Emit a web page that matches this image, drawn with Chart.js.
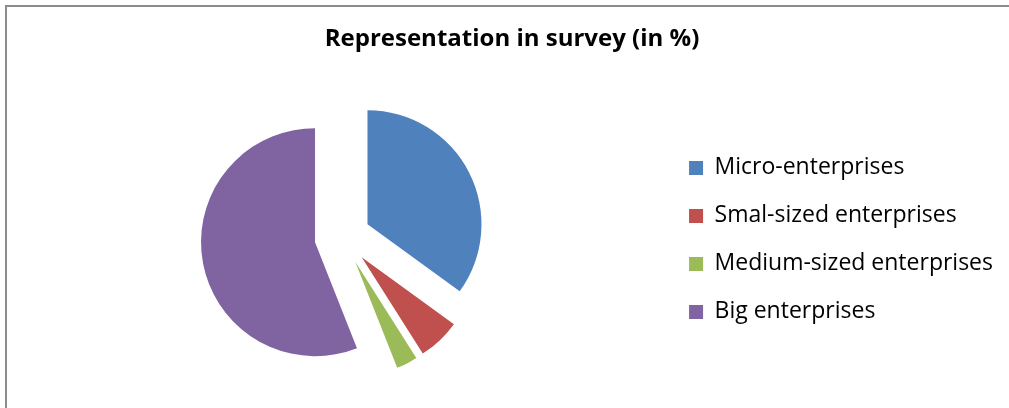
<!DOCTYPE html>
<html><head><meta charset="utf-8">
<script src="https://cdn.jsdelivr.net/npm/chart.js@4.4.1/dist/chart.umd.min.js"></script>
<style>
html,body{margin:0;padding:0;background:#fff;}
#wrap{position:relative;width:1009px;height:408px;overflow:hidden;}
#frame{position:absolute;left:5px;top:5px;width:1100px;height:500px;border-top:2px solid #8c8c8c;border-left:2px solid #8c8c8c;pointer-events:none;}
canvas{position:absolute;left:0;top:0;}
</style>
</head>
<body>
<div id="wrap"><canvas id="c" width="1009" height="408"></canvas><div id="frame"></div></div>
<script>
const titleText = 'Representation in survey (in %)';
const categories = ['Micro-enterprises', 'Smal-sized enterprises', 'Medium-sized enterprises', 'Big enterprises'];
const shares = [35, 6, 3, 56];
const sliceColors = ['#4F81BD', '#C0504D', '#9BBB59', '#8064A2'];

const EXPLODE = 28;
const explodePlugin = {
  id: 'explode',
  afterDatasetsUpdate(chart) {
    chart.getDatasetMeta(0).data.forEach(arc => {
      const mid = (arc.startAngle + arc.endAngle) / 2;
      arc.x += Math.cos(mid) * EXPLODE;
      arc.y += Math.sin(mid) * EXPLODE;
    });
  }
};

new Chart(document.getElementById('c'), {
  type: 'pie',
  data: {
    labels: categories,
    datasets: [{
      data: shares,
      backgroundColor: sliceColors,
      borderWidth: 0,
      clip: false
    }]
  },
  options: {
    responsive: false,
    devicePixelRatio: 1,
    animation: false,
    events: [],
    radius: 114,
    layout: { padding: { left: 21, right: 6, top: 0, bottom: 34 } },
    plugins: {
      title: {
        display: true,
        text: titleText,
        color: '#000',
        font: { family: 'Open Sans', size: 24, weight: 'bold' },
        padding: { top: 25, bottom: 46 }
      },
      legend: {
        position: 'right',
        fullSize: false,
        title: { display: true, text: '', font: { size: 5 }, padding: 0 },
        labels: {
          color: '#000',
          font: { family: 'Open Sans', size: 23 },
          boxWidth: 14,
          boxHeight: 14,
          padding: 25
        }
      },
      tooltip: { enabled: false }
    }
  },
  plugins: [explodePlugin]
});
</script>
</body></html>
